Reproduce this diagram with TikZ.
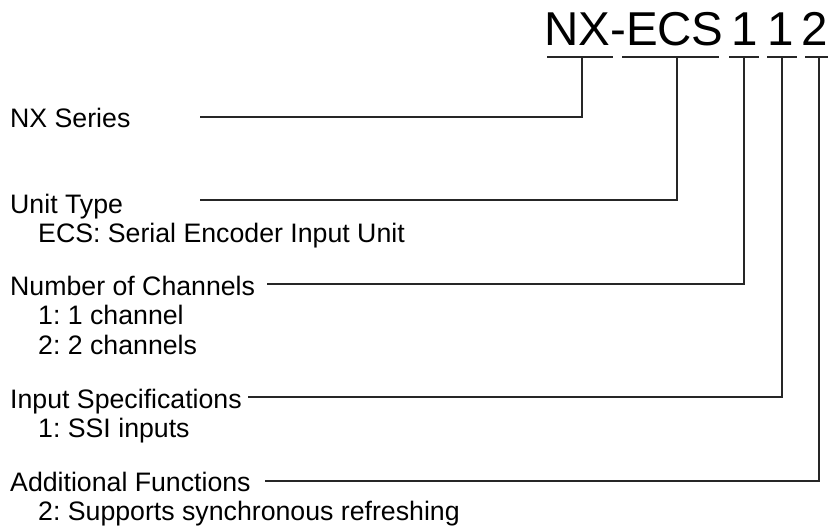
\documentclass[tikz,border=0pt]{standalone}
\usepackage{fontspec}
\setmainfont{Liberation Sans}
\usetikzlibrary{positioning}
\frenchspacing

\begin{document}
\begin{tikzpicture}[
  x=1pt, y=-1pt,
  code/.style={anchor=base, inner sep=0pt, font=\fontsize{47.5}{50}\selectfont},
  head/.style={anchor=base west, inner sep=0pt, font=\fontsize{26.7}{30}\selectfont},
  opt/.style={head, xshift=28pt},
  lead/.style={line width=1.1pt, color=black!85}
]
\useasboundingbox (0,0) rectangle (829,530);

% model number
\node[code, anchor=base west] (nxecs) at (544,45) {NX-ECS};
\node[code] (nch)  at (745,45) {1};
\node[code] (inp)  at (781,45) {1};
\node[code] (func) at (815,45) {2};

% underlines
\coordinate (u1a) at (547,57); \coordinate (u1b) at (613,57);
\coordinate (u2a) at (622,57); \coordinate (u2b) at (719,57);
\coordinate (u3a) at (729,57); \coordinate (u3b) at (759,57);
\coordinate (u4a) at (767,57); \coordinate (u4b) at (797,57);
\coordinate (u5a) at (805,57); \coordinate (u5b) at (828,57);
\draw[lead] (u1a) -- (u1b);
\draw[lead] (u2a) -- (u2b);
\draw[lead] (u3a) -- (u3b);
\draw[lead] (u4a) -- (u4b);
\draw[lead] (u5a) -- (u5b);

% headings and options
\node[head] (series) at (10,127) {NX Series};
\node[head] (type) at (10,213) {Unit Type};
\node[opt, below=0pt of type.base west, anchor=base west, yshift=-29pt] (typeA) {ECS: Serial Encoder Input Unit};
\node[head] (chan) at (10,295) {Number of Channels};
\node[opt, below=0pt of chan.base west, anchor=base west, yshift=-29.5pt] (chanA) {1: 1 channel};
\node[head, below=0pt of chanA.base west, anchor=base west, yshift=-29.5pt] (chanB) {2: 2 channels};
\node[head] (spec) at (10,408) {Input Specifications};
\node[opt, below=0pt of spec.base west, anchor=base west, yshift=-29.5pt] (specA) {1: SSI inputs};
\node[head] (addf) at (10,491) {Additional Functions};
\node[opt, below=0pt of addf.base west, anchor=base west, yshift=-29pt] (addfA) {2: Supports synchronous refreshing};

% leader lines
\coordinate (t1) at (582,57); \coordinate (s1) at (200,117);
\coordinate (t2) at (677,57); \coordinate (s2) at (200,200);
\coordinate (t3) at (744,57); \coordinate (s3) at (267,284);
\coordinate (t4) at (782,57); \coordinate (s4) at (248,397);
\coordinate (t5) at (819,57); \coordinate (s5) at (265,481);
\draw[lead] (t1) |- (s1);
\draw[lead] (t2) |- (s2);
\draw[lead] (t3) |- (s3);
\draw[lead] (t4) |- (s4);
\draw[lead] (t5) |- (s5);
\end{tikzpicture}
\end{document}
